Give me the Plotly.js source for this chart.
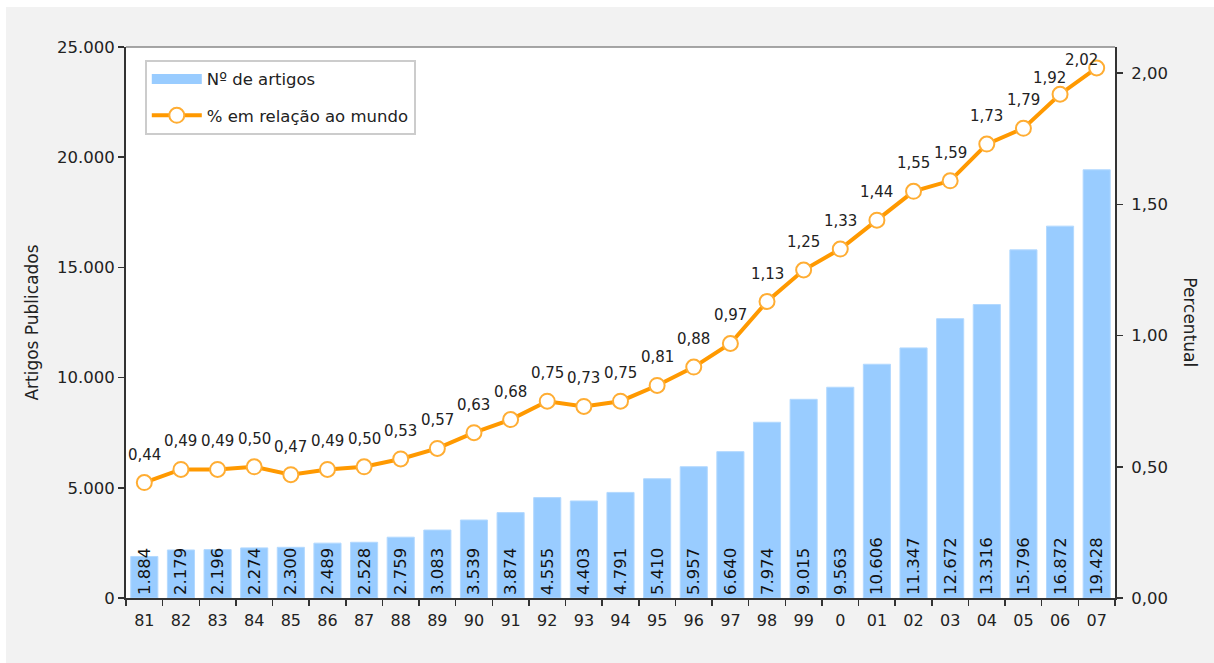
<!DOCTYPE html>
<html>
<head>
<meta charset="utf-8">
<script src="https://cdn.plot.ly/plotly-3.0.1.min.js"></script>
<style>
  html, body { margin: 0; padding: 0; background: #ffffff; }
  #chart { position: absolute; left: 6px; top: 7px; width: 1208px; height: 656px; }
</style>
</head>
<body>
<div id="chart"></div>
<script>
// ---- Data ----
const years = ["81","82","83","84","85","86","87","88","89","90","91","92","93","94","95","96","97","98","99","0","01","02","03","04","05","06","07"];
const artigos = [1884,2179,2196,2274,2300,2489,2528,2759,3083,3539,3874,4555,4403,4791,5410,5957,6640,7974,9015,9563,10606,11347,12672,13316,15796,16872,19428];
const percentual = [0.44,0.49,0.49,0.50,0.47,0.49,0.50,0.53,0.57,0.63,0.68,0.75,0.73,0.75,0.81,0.88,0.97,1.13,1.25,1.33,1.44,1.55,1.59,1.73,1.79,1.92,2.02];
const seriesNames = ["Nº de artigos", "% em relação ao mundo"];
const axisTitles = { left: "Artigos Publicados", right: "Percentual" };

const FONT = "DejaVu Sans, Verdana, sans-serif";
const TXT = "#222222";
const BAR_COLOR = "#99ccff";

const barTrace = {
  type: "bar",
  name: seriesNames[0],
  x: years,
  y: artigos,
  marker: { color: BAR_COLOR, line: { color: "#b3d9ff", width: 1 } },
  texttemplate: "%{y:,}",
  textposition: "inside",
  insidetextanchor: "start",
  textangle: -90,
  constraintext: "none",
  insidetextfont: { family: FONT, size: 16.5, color: "#111111" },
  hoverinfo: "skip",
  showlegend: false
};

// legend-only entry giving the bar series a wide swatch like the reference
const barLegend = {
  type: "scatter",
  mode: "lines",
  name: seriesNames[0],
  x: [null], y: [null],
  line: { color: BAR_COLOR, width: 13 },
  hoverinfo: "skip",
  legendgroup: "a"
};

const lineTrace = {
  type: "scatter",
  mode: "lines+markers",
  name: seriesNames[1],
  x: years,
  y: percentual,
  yaxis: "y2",
  line: { color: "#ff9900", width: 4 },
  marker: { size: 15, color: "#ffffff", line: { color: "#ffad33", width: 2 } },
  hoverinfo: "skip",
  legendgroup: "b",
  cliponaxis: false
};

// Value labels above line points (x given as category index);
// the last two are nudged left/down as in the reference
const n = percentual.length;
const annotations = percentual.map((v, i) => {
  let xs = 0, ys = 17;
  if (i === n - 1) { xs = -15; ys = -3; }
  else if (i === n - 2) { xs = -11; ys = 5; }
  return {
    x: i, y: v, xref: "x", yref: "y2",
    text: v.toFixed(2).replace(".", ","),
    showarrow: false,
    xanchor: "center",
    yanchor: "bottom",
    xshift: xs,
    yshift: ys,
    font: { family: FONT, size: 15, color: TXT }
  };
});
annotations.push({
  text: axisTitles.right, xref: "paper", yref: "paper",
  x: 1.076, y: 0.5, showarrow: false, textangle: 90,
  xanchor: "center", yanchor: "middle",
  font: { family: FONT, size: 17, color: TXT }
});

const layout = {
  width: 1208, height: 656,
  margin: { l: 120, r: 99, t: 40, b: 65 },
  paper_bgcolor: "#f2f2f2",
  plot_bgcolor: "#ffffff",
  separators: ",.",
  font: { family: FONT, size: 16, color: TXT },
  bargap: 0.26,
  showlegend: true,
  legend: {
    x: 0.019, y: 0.977, xanchor: "left", yanchor: "top",
    bgcolor: "#ffffff", bordercolor: "#cccccc", borderwidth: 2,
    font: { family: FONT, size: 16.5, color: TXT },
    traceorder: "grouped", tracegroupgap: 12, itemwidth: 50,
    entrywidth: 300, entrywidthmode: "pixels"
  },
  xaxis: {
    type: "category",
    range: [-0.5, years.length - 0.5],
    autorange: false,
    tickson: "boundaries",
    tickangle: 0,
    ticks: "outside", ticklen: 6, tickcolor: "#333333", tickwidth: 1.5,
    ticklabelstandoff: 7,
    showline: true, linecolor: "#333333", linewidth: 2,
    showgrid: false, zeroline: false,
    tickfont: { family: FONT, size: 16, color: TXT },
    fixedrange: true
  },
  yaxis: {
    range: [0, 25000],
    tickvals: [0, 5000, 10000, 15000, 20000, 25000],
    tickformat: ",d",
    ticks: "outside", ticklen: 6, tickcolor: "#333333", tickwidth: 1.5,
    showline: true, linecolor: "#333333", linewidth: 2,
    showgrid: false, zeroline: false,
    tickfont: { family: FONT, size: 16.5, color: TXT },
    title: { text: axisTitles.left, font: { family: FONT, size: 17, color: TXT }, standoff: 14 },
    fixedrange: true
  },
  yaxis2: {
    overlaying: "y", side: "right",
    range: [0, 2.1],
    tickvals: [0, 0.5, 1.0, 1.5, 2.0],
    tickformat: ".2f",
    ticks: "outside", ticklen: 6, tickcolor: "#333333", tickwidth: 1.5,
    ticklabelstandoff: 5,
    showline: true, linecolor: "#333333", linewidth: 2,
    showgrid: false, zeroline: false,
    tickfont: { family: FONT, size: 16.5, color: TXT },
    fixedrange: true
  },
  shapes: [{
    type: "line", xref: "paper", yref: "paper",
    x0: 0, x1: 1, y0: 1, y1: 1,
    line: { color: "#888888", width: 1.5 }
  }],
  annotations: annotations
};

Plotly.newPlot("chart", [barTrace, barLegend, lineTrace], layout, { displayModeBar: false, staticPlot: true });
</script>
</body>
</html>
